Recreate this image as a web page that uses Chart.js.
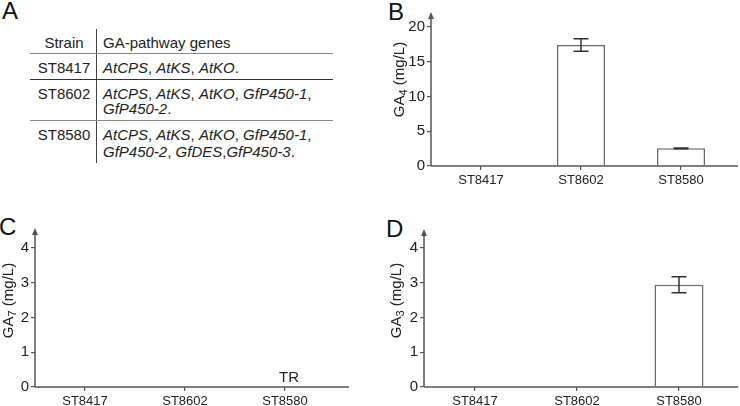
<!DOCTYPE html>
<html>
<head>
<meta charset="utf-8">
<script src="https://cdn.jsdelivr.net/npm/chart.js@4"></script>
<style>
  body { margin: 0; background: #fff; }
  #fig { position: relative; width: 740px; height: 406px; overflow: hidden;
         font-family: "Liberation Sans", Arial, sans-serif; color: #222; }
  .letter { position: absolute; font-size: 24px; line-height: 24px; color: #111; }
  .cell { position: absolute; font-size: 15px; line-height: 17px; white-space: nowrap; }
  .ctr { width: 70px; text-align: center; }
  .hline { position: absolute; height: 1px; left: 30px; width: 303px; }
  canvas { position: absolute; }
</style>
</head>
<body>
<div id="fig">
  <!-- panel letters -->
  <div class="letter" style="left:2px;top:-1px">A</div>
  <div class="letter" style="left:388px;top:0px">B</div>
  <div class="letter" style="left:-1px;top:215px">C</div>
  <div class="letter" style="left:386px;top:217px">D</div>

  <!-- panel A: strain table -->
  <div style="position:absolute;left:96px;top:29px;width:1px;height:134px;background:#444"></div>
  <div class="hline" style="top:53px;background:#888"></div>
  <div class="hline" style="top:79px;background:#333"></div>
  <div class="hline" style="top:120px;background:#888"></div>

  <div class="cell ctr" style="left:29px;top:34px">Strain</div>
  <div class="cell" style="left:103px;top:34px">GA-pathway genes</div>

  <div class="cell ctr" style="left:29px;top:59px">ST8417</div>
  <div class="cell" style="left:103px;top:59px"><i>AtCPS</i>, <i>AtKS</i>, <i>AtKO</i>.</div>

  <div class="cell ctr" style="left:29px;top:85px">ST8602</div>
  <div class="cell" style="left:103px;top:85px"><i>AtCPS</i>, <i>AtKS</i>, <i>AtKO</i>, <i>GfP450-1</i>,</div>
  <div class="cell" style="left:103px;top:100px"><i>GfP450-2</i>.</div>

  <div class="cell ctr" style="left:29px;top:126px">ST8580</div>
  <div class="cell" style="left:103px;top:126px"><i>AtCPS</i>, <i>AtKS</i>, <i>AtKO</i>, <i>GfP450-1</i>,</div>
  <div class="cell" style="left:103px;top:143px"><i>GfP450-2</i>, <i>GfDES</i>,<i>GfP450-3</i>.</div>

  <canvas id="chartGA4" width="370" height="200" style="left:370px;top:0px"></canvas>
  <canvas id="chartGA7" width="370" height="206" style="left:0px;top:200px"></canvas>
  <canvas id="chartGA3" width="370" height="206" style="left:370px;top:200px"></canvas>
</div>

<script>
// ─────────────────────────────────────────────
// data (mg/L)
// ─────────────────────────────────────────────
const strains = ["ST8417", "ST8602", "ST8580"];

const ga4Values = [0, 17.4, 2.55];
const ga4Errors = [0, 0.9, 0.05];
const ga4Ticks  = [0, 5, 10, 15, 20];

const ga7Values = [0, 0, 0];
const ga7Errors = [0, 0, 0];
const ga7Notes  = ["", "", "TR"];
const ga7Ticks  = [0, 1, 2, 3, 4];

const ga3Values = [0, 0, 2.94];
const ga3Errors = [0, 0, 0.23];
const ga3Ticks  = [0, 1, 2, 3, 4];

const FONT = "'Liberation Sans', Arial, sans-serif";
const AXIS_COLOR = "#555";

// axis lines with arrow, error bars, notes and the GAx y-title with subscript
const axisDecor = {
    id: "axisDecor",
    afterDatasetsDraw(chart, args, o) {
        const { ctx, scales: { x, y } } = chart;
        const meta = chart.getDatasetMeta(0);
        ctx.save();
        ctx.strokeStyle = "#333";
        ctx.lineWidth = 1.5;
        (o.errors || []).forEach((e, i) => {
            if (!e) return;
            const v = chart.data.datasets[0].data[i];
            const cx = meta.data[i].x;
            const t = y.getPixelForValue(v + e), b = y.getPixelForValue(v - e);
            ctx.beginPath();
            ctx.moveTo(cx, t); ctx.lineTo(cx, b);
            ctx.moveTo(cx - 7.5, t); ctx.lineTo(cx + 7.5, t);
            ctx.moveTo(cx - 7.5, b); ctx.lineTo(cx + 7.5, b);
            ctx.stroke();
        });
        ctx.fillStyle = "#222";
        ctx.font = "15px " + FONT;
        ctx.textAlign = "center";
        ctx.textBaseline = "alphabetic";
        (o.notes || []).forEach((n, i) => {
            if (n) ctx.fillText(n, x.getPixelForValue(i) + 4, y.getPixelForValue(0) - 5);
        });
        ctx.restore();
    },
    afterDraw(chart, args, o) {
        const { ctx, chartArea: a } = chart;
        ctx.save();
        ctx.strokeStyle = AXIS_COLOR;
        ctx.fillStyle = AXIS_COLOR;
        ctx.lineWidth = 1.5;
        ctx.beginPath();
        ctx.moveTo(a.left, a.bottom);
        ctx.lineTo(a.left, o.arrowTop + 5);
        ctx.moveTo(a.left, a.bottom);
        ctx.lineTo(o.xEnd, a.bottom);
        ctx.stroke();
        ctx.beginPath();
        ctx.moveTo(a.left, o.arrowTop);
        ctx.lineTo(a.left - 3, o.arrowTop + 7);
        ctx.lineTo(a.left + 3, o.arrowTop + 7);
        ctx.closePath();
        ctx.fill();

        // rotated y title: GA + subscript + (mg/L)
        const main = "GA", sub = o.sub, rest = " (mg/L)";
        ctx.fillStyle = "#222";
        ctx.textBaseline = "middle";
        ctx.textAlign = "left";
        ctx.font = "15px " + FONT;
        const w1 = ctx.measureText(main).width, w3 = ctx.measureText(rest).width;
        ctx.font = "11px " + FONT;
        const w2 = ctx.measureText(sub).width;
        const cy = (a.top + a.bottom) / 2 - 17;
        ctx.translate(o.titleX, cy);
        ctx.rotate(-Math.PI / 2);
        let px = -(w1 + w2 + w3) / 2;
        ctx.font = "15px " + FONT;
        ctx.fillText(main, px, 0);
        px += w1;
        ctx.font = "11px " + FONT;
        ctx.fillText(sub, px, 4);
        px += w2;
        ctx.font = "15px " + FONT;
        ctx.fillText(rest, px, 0);
        ctx.restore();
    }
};

function makePanel(id, values, ticks, decor, box) {
    const step = ticks[1] - ticks[0];
    return new Chart(document.getElementById(id), {
        type: "bar",
        data: {
            labels: strains,
            datasets: [{
                data: values,
                backgroundColor: "#fff",
                borderColor: "#6a6a6a",
                borderWidth: 1.5,
                barPercentage: 0.48,
                categoryPercentage: 1,
            }]
        },
        options: {
            responsive: false,
            animation: false,
            devicePixelRatio: 1,
            layout: { padding: { top: box.top, right: box.right, left: 0, bottom: 0 } },
            plugins: {
                legend: { display: false },
                tooltip: { enabled: false },
                axisDecor: decor
            },
            scales: {
                x: {
                    ticks: { font: { size: 13, family: FONT }, color: "#222", padding: 3, maxRotation: 0 },
                    grid: { offset: false, drawOnChartArea: false, tickLength: 4, color: AXIS_COLOR, lineWidth: 1.2 },
                    border: { display: false },
                    afterFit: s => { s.height = box.xHeight; }
                },
                y: {
                    min: ticks[0],
                    max: ticks[ticks.length - 1],
                    ticks: { stepSize: step, font: { size: 15, family: FONT }, color: "#222", padding: 2 },
                    grid: { drawOnChartArea: false, tickLength: 4, color: AXIS_COLOR, lineWidth: 1.2 },
                    border: { display: false },
                    afterFit: s => { s.width = box.yWidth; }
                }
            }
        },
        plugins: [axisDecor]
    });
}

makePanel("chartGA4", ga4Values, ga4Ticks,
    { errors: ga4Errors, sub: "4", arrowTop: 12, xEnd: 368, titleX: 30 },
    { top: 27, right: 9, xHeight: 34, yWidth: 61 });

makePanel("chartGA7", ga7Values, ga7Ticks,
    { errors: ga7Errors, notes: ga7Notes, sub: "7", arrowTop: 28, xEnd: 349, titleX: 9 },
    { top: 48, right: 35, xHeight: 19, yWidth: 35 });

makePanel("chartGA3", ga3Values, ga3Ticks,
    { errors: ga3Errors, sub: "3", arrowTop: 29, xEnd: 368, titleX: 27 },
    { top: 48, right: 10, xHeight: 19, yWidth: 54 });
</script>
</body>
</html>
